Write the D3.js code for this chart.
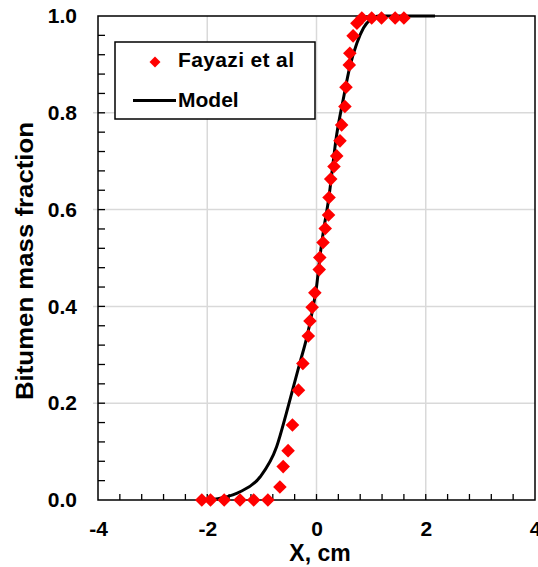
<!DOCTYPE html>
<html><head><meta charset="utf-8">
<script src="https://cdn.jsdelivr.net/npm/d3@7"></script>
<style>body{margin:0;background:#fff}svg{display:block}text{font-family:"Liberation Sans",Arial,sans-serif;font-weight:bold}</style>
</head><body>
<svg id="c" width="538" height="567"></svg>
<script>
const fayaziX = [-2.10,-1.94,-1.69,-1.40,-1.15,-0.89,-0.67,-0.61,-0.52,-0.44,-0.33,-0.25,-0.15,-0.12,-0.08,-0.03,0.05,0.06,0.12,0.16,0.22,0.23,0.26,0.32,0.37,0.43,0.46,0.52,0.54,0.60,0.61,0.67,0.74,0.83,1.01,1.19,1.44,1.60];
const fayaziY = [0,0,0,0,0,0,0.027,0.069,0.102,0.155,0.227,0.282,0.339,0.370,0.398,0.428,0.476,0.501,0.532,0.561,0.589,0.625,0.663,0.689,0.711,0.742,0.775,0.813,0.853,0.899,0.923,0.959,0.985,0.996,0.996,0.996,0.996,0.996];
const modelX = [-2.10,-1.90,-1.70,-1.40,-1.03,-0.73,-0.55,-0.42,-0.30,-0.18,-0.06,0.00,0.06,0.12,0.22,0.37,0.49,0.61,0.74,0.86,0.98,1.15,2.17];
const modelY = [0,0.001,0.005,0.017,0.048,0.110,0.180,0.235,0.285,0.335,0.400,0.440,0.500,0.550,0.620,0.755,0.828,0.895,0.944,0.975,0.992,1.0,1.0];
const xTicks = [-4,-2,0,2,4];
const yTicks = [0,0.2,0.4,0.6,0.8,1.0];
const seriesNames = ["Fayazi et al","Model"];

const svg = d3.select("#c");
const L=98,R=535,T=16,B=500;
const x = d3.scaleLinear().domain([-4,4]).range([L,R]);
const y = d3.scaleLinear().domain([0,1]).range([B,T]);

// gridlines
const g = svg.append("g");
g.selectAll(".gx").data(xTicks.slice(1,-1)).join("line")
 .attr("x1",d=>x(d)).attr("x2",d=>x(d)).attr("y1",T).attr("y2",B)
 .attr("stroke","#d9d9d9").attr("stroke-width",1.5);
g.selectAll(".gy").data(yTicks.slice(1,-1)).join("line")
 .attr("x1",L-5).attr("x2",R).attr("y1",d=>y(d)).attr("y2",d=>y(d))
 .attr("stroke","#d9d9d9").attr("stroke-width",1.5);

// minor ticks (inside)
const xMinor = d3.range(-4,4.001,0.4).filter(v=>v>-3.99&&v<3.99);
const yMinor = d3.range(0,1.0001,0.04).filter(v=>v>0.01&&v<0.99);
g.selectAll(".tx").data(xMinor).join("line")
 .attr("x1",d=>x(d)).attr("x2",d=>x(d)).attr("y1",B).attr("y2",B-6)
 .attr("stroke","#000").attr("stroke-width",1.3);
g.selectAll(".ty").data(yMinor).join("line")
 .attr("x1",L).attr("x2",L+7).attr("y1",d=>y(d)).attr("y2",d=>y(d))
 .attr("stroke","#000").attr("stroke-width",1.3);

// frame
svg.append("rect").attr("x",L).attr("y",T).attr("width",R-L).attr("height",B-T)
 .attr("fill","none").attr("stroke","#000").attr("stroke-width",1.5);

// axes labels via d3 axes
const xAxis = d3.axisBottom(x).tickValues(xTicks).tickSize(0).tickPadding(20).tickFormat(d=>String(d));
const xa = svg.append("g").attr("transform",`translate(0,${B})`).call(xAxis);
xa.select(".domain").remove();
xa.selectAll("text").attr("font-size",21).attr("fill","#000").attr("font-family","Liberation Sans, Arial, sans-serif").attr("font-weight","bold").attr("dy","0.35em").attr("y",29);

const yAxis = d3.axisLeft(y).tickValues(yTicks).tickSize(0).tickPadding(21).tickFormat(d3.format(".1f"));
const ya = svg.append("g").attr("transform",`translate(${L},0)`).call(yAxis);
ya.select(".domain").remove();
ya.selectAll("text").attr("font-size",21).attr("fill","#000").attr("font-family","Liberation Sans, Arial, sans-serif").attr("font-weight","bold");

// model line
const line = d3.line().x(d=>x(d[0])).y(d=>y(d[1])).curve(d3.curveMonotoneX);
svg.append("path").datum(modelX.map((v,i)=>[v,modelY[i]]))
 .attr("d",line).attr("fill","none").attr("stroke","#000").attr("stroke-width",3);

// diamonds
const diamond = d3.symbol().type(d3.symbolSquare).size(92);
svg.selectAll(".pt").data(fayaziX.map((v,i)=>[v,fayaziY[i]])).join("path")
 .attr("d",diamond).attr("fill","#ff0000")
 .attr("transform",d=>`translate(${x(d[0])},${y(d[1])}) rotate(45)`);

// legend
const lg = svg.append("g");
lg.append("rect").attr("x",115).attr("y",42).attr("width",200).attr("height",77)
 .attr("fill","#fff").attr("stroke","#000").attr("stroke-width",1.5);
lg.append("path").attr("d",d3.symbol().type(d3.symbolSquare).size(60)).attr("fill","#ff0000")
 .attr("transform","translate(155,62) rotate(45)");
lg.append("text").attr("x",178).attr("y",67).attr("font-size",21).attr("textLength",116).text(seriesNames[0]);
lg.append("line").attr("x1",133).attr("x2",176).attr("y1",100.5).attr("y2",100.5).attr("stroke","#000").attr("stroke-width",3);
lg.append("text").attr("x",178).attr("y",107).attr("font-size",21).text(seriesNames[1]);

// axis titles
svg.append("text").attr("x",320).attr("y",561).attr("text-anchor","middle").attr("font-size",23).text("X, cm");
svg.append("text").attr("transform","translate(33,261) rotate(-90)").attr("text-anchor","middle")
 .attr("font-size",23).attr("textLength",278).attr("lengthAdjust","spacingAndGlyphs").text("Bitumen mass fraction");
</script>
</body></html>
